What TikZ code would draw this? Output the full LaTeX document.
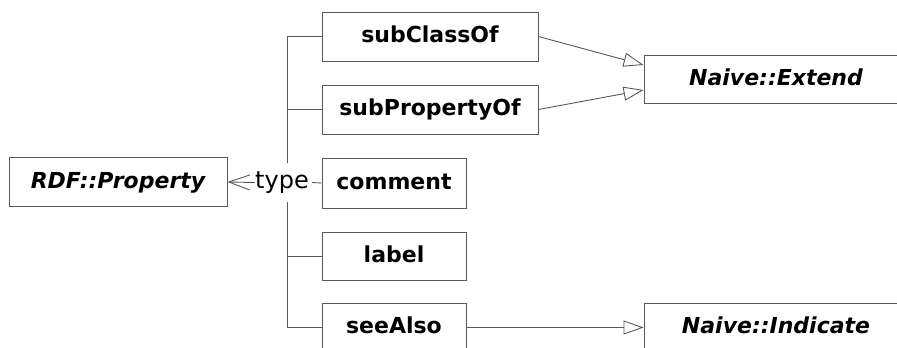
\documentclass[tikz,border=0pt]{standalone}
\usepackage{fontspec}
\setmainfont{DejaVu Sans}
\usetikzlibrary{arrows.meta}
\begin{document}
\begin{tikzpicture}[x=1pt,y=-1pt,
  line col/.style={draw=black!65, line width=0.9pt},
  cls/.style={line col, fill=white, inner sep=0pt, font=\fontsize{22}{26}\selectfont\bfseries, text height=16pt, text depth=4pt},
  abscls/.style={cls, font=\fontsize{22}{26}\selectfont\bfseries\itshape},
  conn/.style={line col},
  gen/.style={line col, -{Triangle[open, length=20pt, width=14pt]}},
  typearrow/.style={line col, -{Straight Barb[length=21pt, width=15pt]}}
]
\useasboundingbox (0,0) rectangle (897,348);
\clip (0,0) rectangle (897,348);
\node[abscls, minimum width=218pt, minimum height=49pt] (rdf) at (118,182) {RDF::Property};
\node[cls, minimum width=216pt, minimum height=49pt] (sc) at (430,36.5) {subClassOf};
\node[cls, minimum width=216pt, minimum height=49pt] (sp) at (430,109.5) {subPropertyOf};
\node[cls, minimum width=144pt, minimum height=50pt] (cm) at (394,183) {comment};
\node[cls, minimum width=144pt, minimum height=48pt] (lb) at (394,256) {label};
\node[cls, minimum width=144pt, minimum height=49pt] (sa) at (394,327.5) {seeAlso};
\node[abscls, minimum width=264pt, minimum height=48pt] (ne) at (776,79) {Naive::Extend};
\node[abscls, minimum width=264pt, minimum height=49pt] (ni) at (776,327.5) {Naive::Indicate};
\node[inner sep=0pt, minimum height=39pt, font=\fontsize{24}{28}\selectfont, text height=17pt, text depth=5pt] (typ) at (282,182.5) {type};
\coordinate (tt) at (287,36.5);
\coordinate (tb) at (287,327.5);
\draw[conn] (sc.west) -- (tt) -- (typ.north -| tt);
\draw[conn] (typ.south -| tt) -- (tb) -- (sa.west);
\draw[conn] (sp.west) -- (sp.west -| tt);
\draw[conn] (lb.west) -- (lb.west -| tt);
\draw[conn] (typ.east) ++(3pt,0) -- (cm.west);
\draw[typearrow] (typ.west) -- (rdf.east);
\draw[gen] (sc.east) -- ([yshift=14pt]ne.west);
\draw[gen] (sp.east) -- ([yshift=-11pt]ne.west);
\draw[gen] (sa.east) -- (ni.west);
\end{tikzpicture}
\end{document}
